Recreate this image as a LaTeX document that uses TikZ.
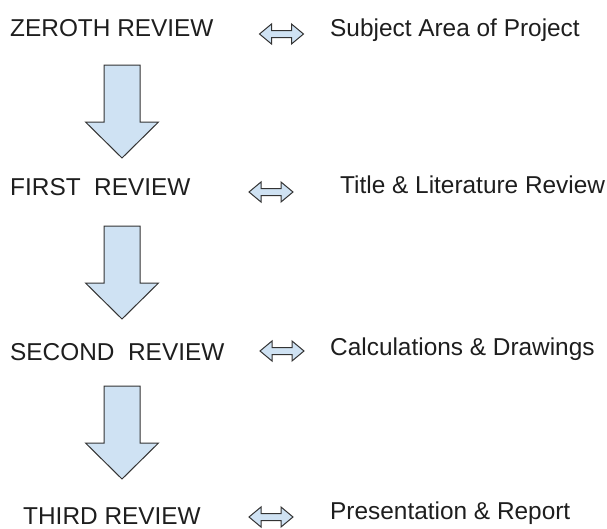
\documentclass[tikz,border=0pt]{standalone}
\usepackage{fontspec}
\setmainfont{Liberation Sans}
\definecolor{arrowfill}{HTML}{CFE2F3}
\definecolor{arrowline}{HTML}{333333}
\definecolor{txt}{HTML}{1E1E1E}

\begin{document}
\begin{tikzpicture}[x=1pt, y=-1pt, font=\fontsize{24.4}{28}\selectfont,
		rev/.style={anchor=base west, inner sep=0pt, text=txt},
		topic/.style={anchor=base west, inner sep=0pt, text=txt},
		blk/.style={draw=arrowline, fill=arrowfill, line width=1pt, line join=miter},
		down block/.pic={\draw[blk] (-18,0) -- (18,0) -- (18,57) -- (36.5,57) -- (0,93) -- (-36.5,57) -- (-18,57) -- cycle;},
		both block/.pic={\draw[blk] (-22,0) -- (-10,-10) -- (-10,-3.5) -- (10,-3.5) -- (10,-10) -- (22,0) -- (10,10) -- (10,3.5) -- (-10,3.5) -- (-10,10) -- cycle;}]
		\useasboundingbox (0,0) rectangle (607,528);
		% reviews
		\node[rev] (zeroth) at (10,36) {ZEROTH REVIEW};
		\node[rev] (first) at (10,195) {FIRST\ \ REVIEW};
		\node[rev] (second) at (10,360) {SECOND\ \ REVIEW};
		\node[rev] (third) at (23,524) {THIRD REVIEW};
		% what each review covers
		\node[topic] (subject) at (330,36) {Subject Area of Project};
		\node[topic] (title) at (340,193) {Title \& Literature Review};
		\node[topic] (calc) at (330,355) {Calculations \& Drawings};
		\node[topic] (report) at (330,519) {Presentation \& Report};
		% block arrows
		\pic at (122,65) {down block};
		\pic at (122,226) {down block};
		\pic at (122,386) {down block};
		\pic at (281.5,34) {both block};
		\pic at (271,192) {both block};
		\pic at (282,351) {both block};
		\pic at (271,517) {both block};
	\end{tikzpicture}
\end{document}
